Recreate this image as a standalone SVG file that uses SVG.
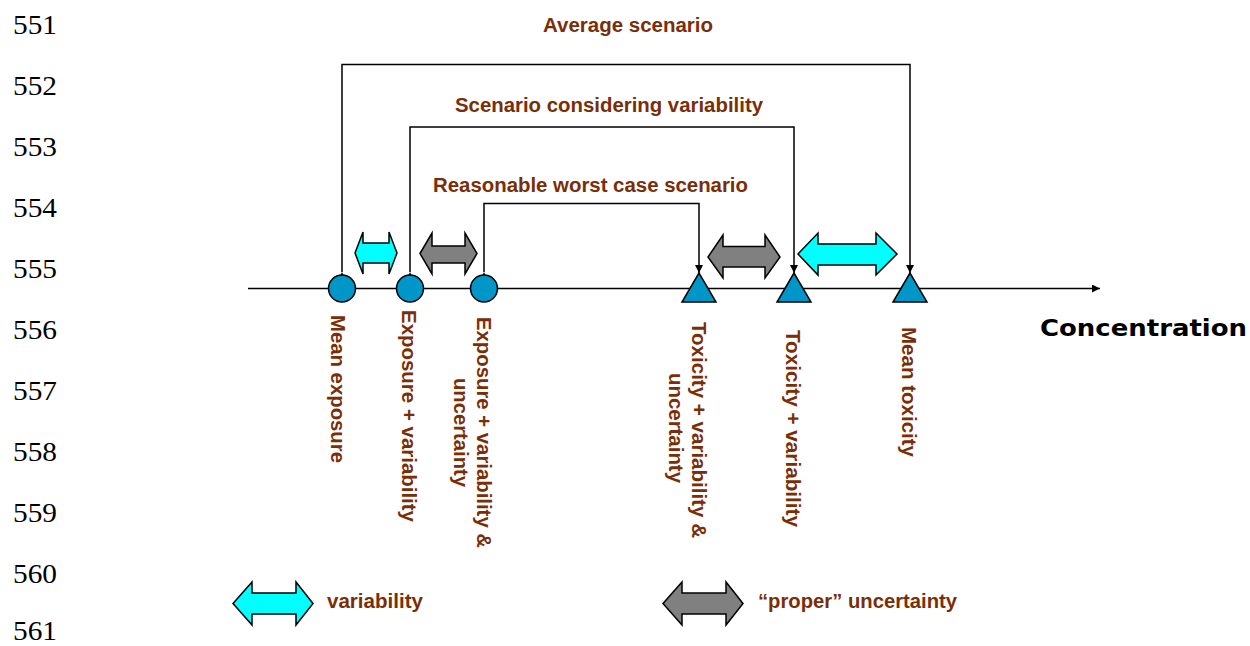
<svg xmlns="http://www.w3.org/2000/svg" width="1250" height="646" viewBox="0 0 1250 646">
  <style>
    .ln { font-family: "Liberation Serif", "Times New Roman", serif; font-size: 27px; fill: #000; }
    .lbl { font-family: "Liberation Sans", Arial, sans-serif; font-weight: bold; font-size: 20px; fill: #7a2e08; }
    .axis-title { font-family: "DejaVu Sans", Verdana, sans-serif; font-weight: bold; font-size: 23px; fill: #000; }
    .wire { fill: none; stroke: #000; stroke-width: 1.5; }
    .pt { fill: #0096c8; stroke: #000; stroke-width: 1.5; }
    .var { fill: #00ffff; stroke: #000; stroke-width: 1.5; stroke-linejoin: miter; }
    .unc { fill: #808080; stroke: #000; stroke-width: 1.5; stroke-linejoin: miter; }
  </style>
  <defs>
    <marker id="tip" viewBox="0 0 10 10" refX="10" refY="5" markerWidth="9" markerHeight="8" markerUnits="userSpaceOnUse" orient="auto">
      <path d="M0,0 L10,5 L0,10 Z" fill="#000"/>
    </marker>
  </defs>

  <rect width="1250" height="646" fill="#fff"/>

  <!-- line numbers -->
  <g id="line-numbers">
    <text class="ln" x="13" y="33.5" textLength="44" lengthAdjust="spacingAndGlyphs">551</text>
    <text class="ln" x="13" y="94.6" textLength="44" lengthAdjust="spacingAndGlyphs">552</text>
    <text class="ln" x="13" y="155.7" textLength="44" lengthAdjust="spacingAndGlyphs">553</text>
    <text class="ln" x="13" y="216.8" textLength="44" lengthAdjust="spacingAndGlyphs">554</text>
    <text class="ln" x="13" y="277.9" textLength="44" lengthAdjust="spacingAndGlyphs">555</text>
    <text class="ln" x="13" y="339" textLength="44" lengthAdjust="spacingAndGlyphs">556</text>
    <text class="ln" x="13" y="400.1" textLength="44" lengthAdjust="spacingAndGlyphs">557</text>
    <text class="ln" x="13" y="461.2" textLength="44" lengthAdjust="spacingAndGlyphs">558</text>
    <text class="ln" x="13" y="522.3" textLength="44" lengthAdjust="spacingAndGlyphs">559</text>
    <text class="ln" x="13" y="583.4" textLength="44" lengthAdjust="spacingAndGlyphs">560</text>
    <text class="ln" x="13" y="640" textLength="44" lengthAdjust="spacingAndGlyphs">561</text>
  </g>

  <!-- connectors: concentration axis and scenario brackets -->
  <g id="connectors">
    <line class="wire" x1="248" y1="288.5" x2="1100" y2="288.5" marker-end="url(#tip)"/>
    <polyline class="wire" points="342,272 342,64.5 910,64.5 910,273" marker-start="url(#tip)" marker-end="url(#tip)"/>
    <polyline class="wire" points="410,272 410,127 794,127 794,273" marker-start="url(#tip)" marker-end="url(#tip)"/>
    <polyline class="wire" points="484,272 484,203.5 699,203.5 699,273" marker-start="url(#tip)" marker-end="url(#tip)"/>
  </g>

  <!-- scenario titles -->
  <g id="scenario-average">
    <text class="lbl" x="543" y="31.7" textLength="170" lengthAdjust="spacingAndGlyphs">Average scenario</text>
  </g>
  <g id="scenario-variability">
    <text class="lbl" x="455" y="111.7" textLength="308" lengthAdjust="spacingAndGlyphs">Scenario considering variability</text>
  </g>
  <g id="scenario-worst-case">
    <text class="lbl" x="433" y="192.3" textLength="315" lengthAdjust="spacingAndGlyphs">Reasonable worst case scenario</text>
  </g>

  <!-- exposure points -->
  <g id="mean-exposure">
    <circle class="pt" cx="342" cy="288.5" r="13.5"/>
    <text class="lbl" transform="translate(331,315) rotate(90)" textLength="148" lengthAdjust="spacingAndGlyphs">Mean exposure</text>
  </g>
  <g id="exposure-variability">
    <circle class="pt" cx="410" cy="288.5" r="13.5"/>
    <text class="lbl" transform="translate(402,310) rotate(90)" textLength="212" lengthAdjust="spacingAndGlyphs">Exposure + variability</text>
  </g>
  <g id="exposure-variability-uncertainty">
    <circle class="pt" cx="484" cy="288.5" r="13.5"/>
    <text class="lbl" text-anchor="middle" transform="translate(477,432.5) rotate(90)" textLength="231" lengthAdjust="spacingAndGlyphs">Exposure + variability &amp;</text>
    <text class="lbl" text-anchor="middle" transform="translate(454,432.5) rotate(90)" textLength="109" lengthAdjust="spacingAndGlyphs">uncertainty</text>
  </g>

  <!-- toxicity points -->
  <g id="toxicity-variability-uncertainty">
    <polygon class="pt" points="699,273 682,302 716,302"/>
    <text class="lbl" text-anchor="middle" transform="translate(692,430) rotate(90)" textLength="216" lengthAdjust="spacingAndGlyphs">Toxicity + variability &amp;</text>
    <text class="lbl" text-anchor="middle" transform="translate(669,428) rotate(90)" textLength="110" lengthAdjust="spacingAndGlyphs">uncertainty</text>
  </g>
  <g id="toxicity-variability">
    <polygon class="pt" points="794,273 777,302 811,302"/>
    <text class="lbl" transform="translate(786,330) rotate(90)" textLength="197" lengthAdjust="spacingAndGlyphs">Toxicity + variability</text>
  </g>
  <g id="mean-toxicity">
    <polygon class="pt" points="910,273 893,302 927,302"/>
    <text class="lbl" transform="translate(902,327) rotate(90)" textLength="130" lengthAdjust="spacingAndGlyphs">Mean toxicity</text>
  </g>

  <!-- spread arrows between points -->
  <g id="spread-exposure-variability">
    <path class="var" d="M355,253 L363,232 L363,243 L389,243 L389,232 L397,253 L389,274 L389,263 L363,263 L363,274 Z"/>
  </g>
  <g id="spread-exposure-uncertainty">
    <path class="unc" d="M420,253.5 L432,233 L432,246 L465,246 L465,233 L477,253.5 L465,274 L465,263 L432,263 L432,274 Z"/>
  </g>
  <g id="spread-toxicity-uncertainty">
    <path class="unc" d="M708,257 L723,235 L723,246.5 L765,246.5 L765,235 L780,257 L765,278 L765,267 L723,267 L723,278 Z"/>
  </g>
  <g id="spread-toxicity-variability">
    <path class="var" d="M798,254 L818,233 L818,244 L876,244 L876,233 L897,254 L876,275 L876,265 L818,265 L818,275 Z"/>
  </g>

  <!-- axis title -->
  <g id="axis-label">
    <text class="axis-title" x="1040" y="336" textLength="207" lengthAdjust="spacingAndGlyphs">Concentration</text>
  </g>

  <!-- legend -->
  <g id="legend-variability">
    <path class="var" d="M233,603.5 L252,582 L252,593 L296,593 L296,582 L313,603.5 L296,625 L296,614 L252,614 L252,625 Z"/>
    <text class="lbl" x="327" y="608.3" textLength="96" lengthAdjust="spacingAndGlyphs">variability</text>
  </g>
  <g id="legend-uncertainty">
    <path class="unc" d="M663,603.5 L682,582 L682,593 L726,593 L726,582 L743,603.5 L726,625 L726,614 L682,614 L682,625 Z"/>
    <text class="lbl" x="758" y="608.3" textLength="199" lengthAdjust="spacingAndGlyphs">“proper” uncertainty</text>
  </g>
</svg>
